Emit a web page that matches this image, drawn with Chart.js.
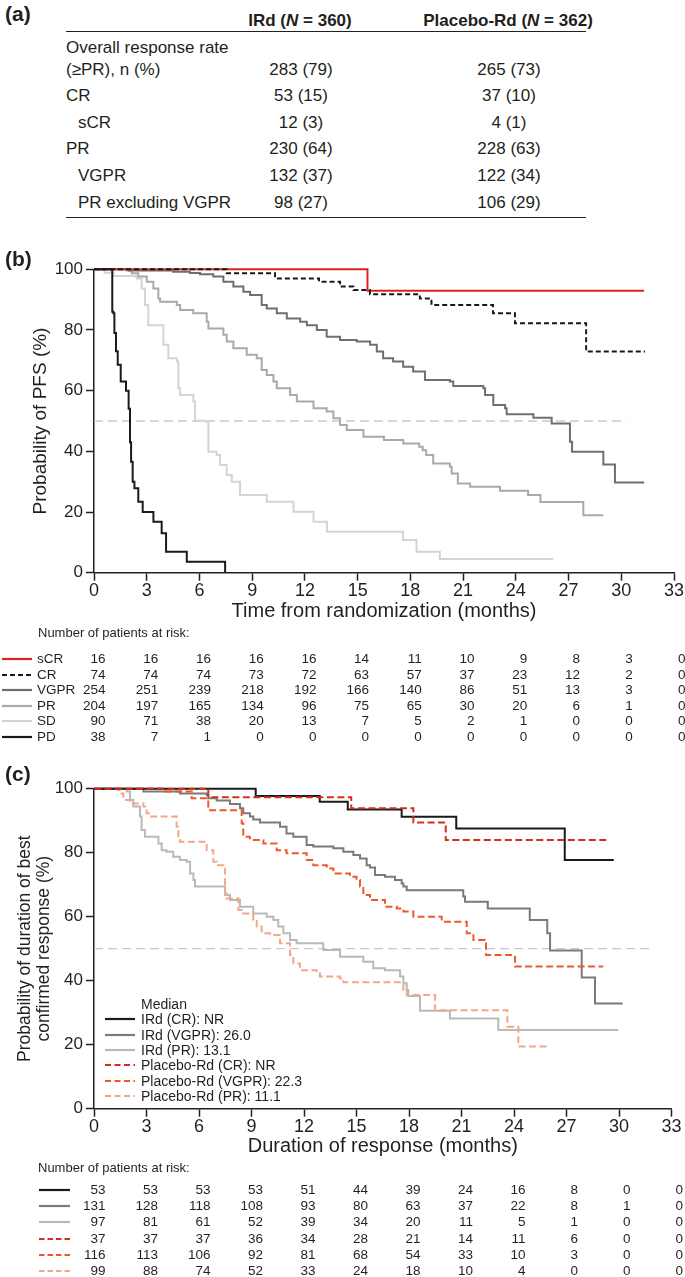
<!DOCTYPE html>
<html lang="en">
<head>
<meta charset="utf-8">
<title>IRd response and PFS by best response</title>
<script src="https://cdn.jsdelivr.net/npm/chart.js@4.4.1/dist/chart.umd.min.js"></script>
<style>
 html,body{margin:0;padding:0;background:#fff;}
 body{position:relative;width:685px;height:1277px;overflow:hidden;font-family:'Liberation Sans',Arial,Helvetica,sans-serif;color:#231f20;}
 .t{position:absolute;white-space:nowrap;line-height:1;}
 canvas{position:absolute;left:0;}
 svg{position:absolute;overflow:visible;}
 .rule{position:absolute;left:66px;width:520px;height:0;border-top:1.6px solid #231f20;}
</style>
</head>
<body>
<canvas id="pfs" width="685" height="380" style="top:250px;width:685px;height:380px"></canvas>
<canvas id="dor" width="685" height="390" style="top:770px;width:685px;height:390px"></canvas>
<script>
// ---------- (a) table ----------
const tableLabels = ['Overall response rate', '(\u2265PR), n (%)', 'CR', 'sCR', 'PR', 'VGPR', 'PR excluding VGPR'];
const tableIndent = [0, 0, 0, 1, 0, 1, 1];
const irdValues = ['', '283 (79)', '53 (15)', '12 (3)', '230 (64)', '132 (37)', '98 (27)'];
const pboValues = ['', '265 (73)', '37 (10)', '4 (1)', '228 (63)', '122 (34)', '106 (29)'];

// ---------- (b) PFS by best response ----------
const riskTimes = [0, 3, 6, 9, 12, 15, 18, 21, 24, 27, 30, 33];
const pfs_sCR_t = [0, 15.56, 31.3];
const pfs_sCR_p = [100, 92.9, 92.9];
const pfs_CR_t = [0, 7.55, 10.3, 12.8, 14.0, 14.76, 15.7, 18.54, 19.2, 22.7, 23.95, 28.0, 31.35];
const pfs_CR_p = [100, 98.7, 97.0, 95.9, 94.3, 93.2, 91.8, 90.4, 88.2, 85.5, 82.2, 72.9, 72.9];
const pfs_VGPR_t = [0, 2.0, 4.5, 5.46, 6.03, 6.79, 7.36, 7.93, 8.5, 8.88, 9.54, 9.83, 10.4, 10.97, 11.73, 12.11, 12.68, 13.24, 14.0, 14.95, 15.71, 16.09, 16.45, 17.02, 17.59, 18.16, 18.83, 20.25, 20.44, 22.15, 22.25, 22.72, 23.39, 23.48, 25.0, 26.04, 27.08, 27.2, 28.98, 29.64, 31.3];
const pfs_VGPR_p = [100, 99.6, 99.2, 98.8, 98.4, 97.6, 95.9, 94.3, 92.6, 91.5, 88.2, 87.1, 85.5, 83.8, 82.7, 81.6, 80.0, 77.8, 76.7, 76.2, 75.1, 72.9, 70.7, 69.6, 67.9, 66.3, 63.5, 63.0, 61.5, 60.8, 58.6, 55.3, 54.2, 52.2, 51.1, 49.2, 43.2, 39.9, 35.7, 29.7, 29.7];
const pfs_PR_t = [0, 1.86, 2.14, 2.52, 3.0, 3.38, 3.66, 3.76, 4.71, 4.9, 5.65, 6.41, 6.51, 7.36, 7.55, 7.93, 8.69, 9.26, 9.54, 9.83, 10.21, 10.4, 11.16, 11.54, 12.49, 13.24, 13.62, 14.0, 14.38, 15.33, 16.5, 17.6, 18.5, 18.7, 18.9, 19.3, 20.25, 20.35, 20.7, 21.4, 23.1, 24.7, 25.4, 27.84, 28.98];
const pfs_PR_p = [100, 99.6, 98.7, 97.6, 95.9, 93.7, 90.4, 89.3, 88.2, 86.6, 85.5, 82.7, 80.5, 78.4, 76.2, 74.0, 71.8, 70.7, 66.8, 65.2, 63.0, 60.8, 58.6, 56.4, 54.2, 53.1, 50.9, 48.7, 47.0, 44.8, 43.7, 42.6, 41.5, 40.4, 38.8, 36.0, 34.9, 32.7, 29.4, 28.3, 27.0, 25.6, 23.3, 18.9, 18.9];
const pfs_SD_t = [0, 0.6, 1.1, 2.43, 2.71, 2.9, 3.09, 3.95, 4.23, 4.71, 4.8, 4.9, 5.65, 5.75, 6.32, 6.51, 6.98, 7.17, 7.55, 7.84, 8.31, 9.83, 11.35, 12.49, 13.25, 17.59, 18.35, 19.68, 26.13];
const pfs_SD_p = [100, 98.9, 97.8, 97.0, 93.7, 88.2, 81.6, 75.1, 70.7, 69.6, 60.8, 58.6, 56.4, 50.1, 49.8, 39.9, 38.8, 35.5, 32.2, 30.0, 25.6, 23.4, 20.1, 16.8, 13.5, 10.8, 6.9, 4.5, 4.5];
const pfs_PD_t = [0, 1.04, 1.10, 1.16, 1.25, 1.35, 1.52, 1.82, 1.97, 2.05, 2.11, 2.20, 2.30, 2.52, 2.77, 3.38, 3.85, 4.10, 5.28, 7.46];
const pfs_PD_p = [100, 86, 85.5, 79, 73, 68.5, 63, 60, 54, 43, 36.6, 30, 27.8, 23.4, 20, 16.8, 13.0, 6.9, 3.6, 0];
const pfsRef_t = [0, 30.3];
const ref_p = [50, 50];

const pfsRiskLabels = ['sCR', 'CR', 'VGPR', 'PR', 'SD', 'PD'];
const pfsRisk_sCR = [16, 16, 16, 16, 16, 14, 11, 10, 9, 8, 3, 0];
const pfsRisk_CR = [74, 74, 74, 73, 72, 63, 57, 37, 23, 12, 2, 0];
const pfsRisk_VGPR = [254, 251, 239, 218, 192, 166, 140, 86, 51, 13, 3, 0];
const pfsRisk_PR = [204, 197, 165, 134, 96, 75, 65, 30, 20, 6, 1, 0];
const pfsRisk_SD = [90, 71, 38, 20, 13, 7, 5, 2, 1, 0, 0, 0];
const pfsRisk_PD = [38, 7, 1, 0, 0, 0, 0, 0, 0, 0, 0, 0];

// ---------- (c) duration of response ----------
const dor_IRdCR_t = [0, 9.24, 12.9, 14.5, 17.58, 20.7, 26.9, 29.7];
const dor_IRdCR_p = [100, 97.7, 95.9, 93.5, 91.25, 87.6, 77.7, 77.7];
const dor_IRdVGPR_t = [0, 2.82, 4.91, 6.44, 6.53, 7.01, 7.77, 8.34, 8.53, 8.91, 9.1, 9.49, 10.63, 11.0, 11.39, 12.15, 12.53, 13.68, 14.25, 14.82, 15.2, 15.58, 15.77, 16.06, 16.63, 17.2, 17.58, 17.68, 17.87, 21.1, 21.2, 22.5, 24.9, 25.9, 26.06, 27.87, 28.63, 30.21];
const dor_IRdVGPR_p = [100, 99.1, 98.5, 98.0, 97.0, 96.3, 95.2, 93.9, 92.3, 91.3, 90.4, 89.4, 88.1, 86.0, 85.0, 82.4, 81.9, 81.4, 80.3, 79.3, 78.2, 76.1, 75.4, 73.0, 72.5, 71.5, 70.4, 69.4, 68.3, 66.3, 64.7, 62.6, 59.0, 54.8, 49.4, 41.0, 32.9, 32.9];
const dor_IRdPR_t = [0, 1.87, 2.06, 2.25, 2.63, 2.72, 2.91, 3.68, 3.87, 4.15, 4.53, 4.91, 5.3, 5.49, 5.68, 5.77, 7.49, 7.77, 8.34, 9.1, 9.87, 10.25, 10.53, 10.82, 11.2, 11.58, 13.1, 14.06, 15.39, 15.96, 16.63, 17.49, 17.68, 17.87, 17.96, 18.63, 20.34, 23.1, 29.96];
const dor_IRdPR_p = [100, 99.1, 96.5, 94.4, 91.3, 87.1, 85.0, 82.9, 80.8, 80.3, 78.7, 77.7, 77.2, 73.5, 71.5, 69.4, 66.8, 65.2, 63.1, 61.0, 60.0, 59.0, 56.9, 54.8, 52.7, 51.7, 49.6, 47.5, 45.9, 43.9, 43.3, 41.3, 39.2, 37.1, 35.2, 30.6, 28.2, 24.6, 24.6];
const dor_PboCR_t = [0, 6.53, 14.7, 18.25, 20.1, 29.3];
const dor_PboCR_p = [100, 97.3, 93.9, 89.4, 84.0, 84.0];
const dor_PboVGPR_t = [0, 3.96, 5.58, 6.53, 8.44, 8.53, 8.91, 9.68, 10.44, 11.0, 12.15, 12.53, 13.3, 13.68, 14.63, 15.0, 15.2, 15.39, 15.77, 16.63, 17.3, 17.68, 18.25, 19.87, 21.3, 21.68, 22.34, 22.4, 24.06, 29.1];
const dor_PboVGPR_p = [100, 99.1, 97.0, 93.3, 89.2, 85.0, 84.0, 82.9, 80.8, 79.8, 77.7, 76.1, 75.1, 73.5, 72.5, 71.5, 69.4, 66.8, 65.2, 63.1, 62.6, 61.6, 60.0, 58.4, 54.8, 52.7, 51.7, 48.0, 44.4, 44.4];
const dor_PboPR_t = [0, 1.39, 1.58, 1.68, 2.06, 2.82, 3.01, 3.2, 4.72, 4.82, 4.91, 6.44, 6.82, 7.01, 7.39, 7.49, 7.58, 8.25, 8.44, 9.1, 9.3, 9.58, 10.06, 10.63, 11.2, 11.39, 11.77, 12.72, 12.91, 14.06, 14.25, 17.68, 17.87, 19.49, 23.62, 24.25, 25.9];
const dor_PboPR_p = [100, 99.6, 98.5, 96.5, 95.4, 94.4, 92.3, 91.3, 88.1, 84.0, 83.4, 80.8, 77.2, 76.1, 75.1, 67.3, 65.7, 62.1, 61.0, 59.0, 56.9, 54.8, 54.3, 51.7, 48.0, 45.4, 43.3, 42.3, 41.3, 40.7, 39.5, 37.1, 35.5, 30.8, 25.6, 19.4, 19.4];
const dorRef_t = [0, 32.0];

const dorLegendLabels = ['IRd (CR): NR', 'IRd (VGPR): 26.0', 'IRd (PR): 13.1', 'Placebo-Rd (CR): NR', 'Placebo-Rd (VGPR): 22.3', 'Placebo-Rd (PR): 11.1'];
const dorRisk_IRdCR = [53, 53, 53, 53, 51, 44, 39, 24, 16, 8, 0, 0];
const dorRisk_IRdVGPR = [131, 128, 118, 108, 93, 80, 63, 37, 22, 8, 1, 0];
const dorRisk_IRdPR = [97, 81, 61, 52, 39, 34, 20, 11, 5, 1, 0, 0];
const dorRisk_PboCR = [37, 37, 37, 36, 34, 28, 21, 14, 11, 6, 0, 0];
const dorRisk_PboVGPR = [116, 113, 106, 92, 81, 68, 54, 33, 10, 3, 0, 0];
const dorRisk_PboPR = [99, 88, 74, 52, 33, 24, 18, 10, 4, 0, 0, 0];

// ---------- styles ----------
const INK = '#231f20';
const C = {
  red: '#d7261e', black: '#1a1a1a', vgpr: '#6f6f6f', pr: '#a9a9a9', sd: '#d4d4d4',
  cIRdVGPR: '#7a7a7a', cIRdPR: '#b9b9b9', pboCR: '#d2301c', pboVGPR: '#ec5a2c', pboPR: '#f4a688', ref: '#c9c9c9'
};
Chart.defaults.font.family = "'Liberation Sans', Arial, Helvetica, sans-serif";
Chart.defaults.color = INK;

function txt(str, x, y, align, size, weight, html) {
  const d = document.createElement('div');
  d.className = 't';
  if (html) d.innerHTML = str; else d.textContent = str;
  d.style.left = x + 'px';
  d.style.top = y + 'px';
  d.style.fontSize = size + 'px';
  if (weight) d.style.fontWeight = weight;
  const tx = align === 'center' ? '-50%' : (align === 'right' ? '-100%' : '0');
  d.style.transform = 'translate(' + tx + ',-50%)';
  document.body.appendChild(d);
  return d;
}
const NS = 'http://www.w3.org/2000/svg';
function sample(x1, x2, y, color, dash, w) {
  const s = document.createElementNS(NS, 'svg');
  s.setAttribute('width', x2 - x1); s.setAttribute('height', 6);
  s.style.left = x1 + 'px'; s.style.top = (y - 3) + 'px';
  const l = document.createElementNS(NS, 'line');
  l.setAttribute('x1', 0); l.setAttribute('x2', x2 - x1);
  l.setAttribute('y1', 3); l.setAttribute('y2', 3);
  l.setAttribute('stroke', color); l.setAttribute('stroke-width', w || 2);
  if (dash) l.setAttribute('stroke-dasharray', dash.join(' '));
  s.appendChild(l);
  document.body.appendChild(s);
}
function km(t, p, color, width, dash, stepped) {
  return {
    data: t.map((m, i) => ({x: m, y: p[i]})),
    borderColor: color, backgroundColor: color, borderWidth: width,
    borderDash: dash || [], stepped: stepped === false ? false : 'before',
    pointRadius: 0, pointHoverRadius: 0, fill: false, tension: 0, clip: 8,
    borderCapStyle: 'butt', borderJoinStyle: 'miter'
  };
}
function scales(o) {
  const grid = {drawOnChartArea: false, drawTicks: true, tickLength: 8, tickWidth: 1.5, tickColor: INK};
  const border = {display: true, color: INK, width: 1.5};
  return {
    x: {
      type: 'linear', min: 0, max: 33,
      afterFit: s => { s.height = o.xh; },
      ticks: {stepSize: 3, autoSkip: false, maxRotation: 0, padding: 0, font: {size: 18}, color: INK},
      grid: grid, border: border,
      title: {display: true, text: o.xTitle, font: {size: 20}, color: INK, padding: {top: 0, bottom: o.xPad}}
    },
    y: {
      type: 'linear', min: 0, max: 100,
      afterFit: s => { s.width = 94; },
      ticks: {stepSize: 20, padding: 3, font: {size: 17}, color: INK},
      grid: grid, border: border,
      title: {display: true, text: o.yTitle, font: {size: o.yFont, lineHeight: o.yLH}, color: INK, padding: {top: o.yPad, bottom: 0}}
    }
  };
}
function opts(o) {
  return {
    responsive: false, animation: false, events: [],
    layout: {padding: {top: o.top, right: o.right, left: 0, bottom: 0}},
    plugins: {legend: {display: false}, tooltip: {enabled: false}},
    scales: scales(o)
  };
}

// ---------- (a) ----------
txt('(a)', 5, 13, 'left', 21, 'bold');
txt('IRd (<i>N</i> = 360)', 300, 20, 'center', 17, 'bold', true);
txt('Placebo-Rd (<i>N</i> = 362)', 508, 20, 'center', 17, 'bold', true);
(function () {
  const r1 = document.createElement('div'); r1.className = 'rule'; r1.style.top = '31px'; document.body.appendChild(r1);
  const r2 = document.createElement('div'); r2.className = 'rule'; r2.style.top = '217px'; document.body.appendChild(r2);
  const rowY = [47, 69, 95, 122, 148, 175, 202];
  tableLabels.forEach((lab, i) => {
    txt(lab, tableIndent[i] ? 78 : 66, rowY[i], 'left', 17);
    if (irdValues[i]) txt(irdValues[i], 301, rowY[i], 'center', 17);
    if (pboValues[i]) txt(pboValues[i], 509, rowY[i], 'center', 17);
  });
})();

// ---------- (b) ----------
txt('(b)', 5, 258, 'left', 21, 'bold');
const pfsChart = new Chart(document.getElementById('pfs'), {
  type: 'line',
  data: {datasets: [
    km(pfs_PD_t, pfs_PD_p, C.black, 2),
    km(pfs_CR_t, pfs_CR_p, C.black, 2, [5, 3]),
    km(pfs_sCR_t, pfs_sCR_p, C.red, 2),
    km(pfs_VGPR_t, pfs_VGPR_p, C.vgpr, 2),
    km(pfs_PR_t, pfs_PR_p, C.pr, 2),
    km(pfs_SD_t, pfs_SD_p, C.sd, 2),
    km(pfsRef_t, ref_p, C.ref, 1.3, [9, 5], false)
  ]},
  options: opts({top: 19.3, right: 11, xh: 57.3, xPad: 6.6, xTitle: 'Time from randomization (months)',
    yTitle: 'Probability of PFS (%)', yFont: 19, yLH: 1.2, yPad: 29.6})
});

// ---------- (c) ----------
txt('(c)', 5, 773, 'left', 21, 'bold');
const dorChart = new Chart(document.getElementById('dor'), {
  type: 'line',
  data: {datasets: [
    km(dor_PboCR_t, dor_PboCR_p, C.pboCR, 2, [7, 3.5]),
    km(dor_IRdCR_t, dor_IRdCR_p, C.black, 2),
    km(dor_PboVGPR_t, dor_PboVGPR_p, C.pboVGPR, 2, [7, 3.5]),
    km(dor_IRdVGPR_t, dor_IRdVGPR_p, C.cIRdVGPR, 2),
    km(dor_PboPR_t, dor_PboPR_p, C.pboPR, 2, [7, 3.5]),
    km(dor_IRdPR_t, dor_IRdPR_p, C.cIRdPR, 2),
    km(dorRef_t, ref_p, C.ref, 1.3, [9, 5], false)
  ]},
  options: opts({top: 18.7, right: 13.5, xh: 51.3, xPad: 1.6, xTitle: 'Duration of response (months)',
    yTitle: ['Probability of duration of best', 'confirmed response (%)'], yFont: 17.5, yLH: 1.1, yPad: 15.4})
});

// legend inside (c)
(function () {
  txt('Median', 141, 1004, 'left', 14);
  const styles = [[C.black, null], [C.cIRdVGPR, null], [C.cIRdPR, null], [C.pboCR, [6, 3.5]], [C.pboVGPR, [6, 3.5]], [C.pboPR, [6, 3.5]]];
  dorLegendLabels.forEach((lab, i) => {
    const y = 1019.3 + i * 15.3;
    sample(105, 135, y, styles[i][0], styles[i][1], 2.2);
    txt(lab, 141, y, 'left', 14);
  });
})();

// ---------- at-risk tables, placed through the charts' x scales ----------
function riskRows(chart, rows, ys) {
  const xs = chart.scales.x;
  rows.forEach((vals, r) => {
    vals.forEach((v, j) => {
      const px = xs.getPixelForValue(riskTimes[j]);
      txt(String(v), px + 11.5, ys[r], 'right', 13.5);
    });
  });
}
(function () {
  txt('Number of patients at risk:', 38, 632, 'left', 13);
  const ys = [659, 674.5, 690, 705.5, 721, 736.5];
  const st = [[C.red, null], [C.black, [5, 3]], [C.vgpr, null], [C.pr, null], [C.sd, null], [C.black, null]];
  pfsRiskLabels.forEach((lab, i) => {
    sample(2, 32, ys[i], st[i][0], st[i][1], 2.2);
    txt(lab, 37, ys[i], 'left', 13.5);
  });
  riskRows(pfsChart, [pfsRisk_sCR, pfsRisk_CR, pfsRisk_VGPR, pfsRisk_PR, pfsRisk_SD, pfsRisk_PD], ys);
})();
(function () {
  txt('Number of patients at risk:', 38, 1167, 'left', 13);
  const ys = [1190, 1206.2, 1222.4, 1238.6, 1254.8, 1271];
  const st = [[C.black, null], [C.cIRdVGPR, null], [C.cIRdPR, null], [C.pboCR, [5.5, 3]], [C.pboVGPR, [5.5, 3]], [C.pboPR, [5.5, 3]]];
  st.forEach((s, i) => sample(39, 70, ys[i], s[0], s[1], 2.2));
  riskRows(dorChart, [dorRisk_IRdCR, dorRisk_IRdVGPR, dorRisk_IRdPR, dorRisk_PboCR, dorRisk_PboVGPR, dorRisk_PboPR], ys);
})();
</script>
</body>
</html>
